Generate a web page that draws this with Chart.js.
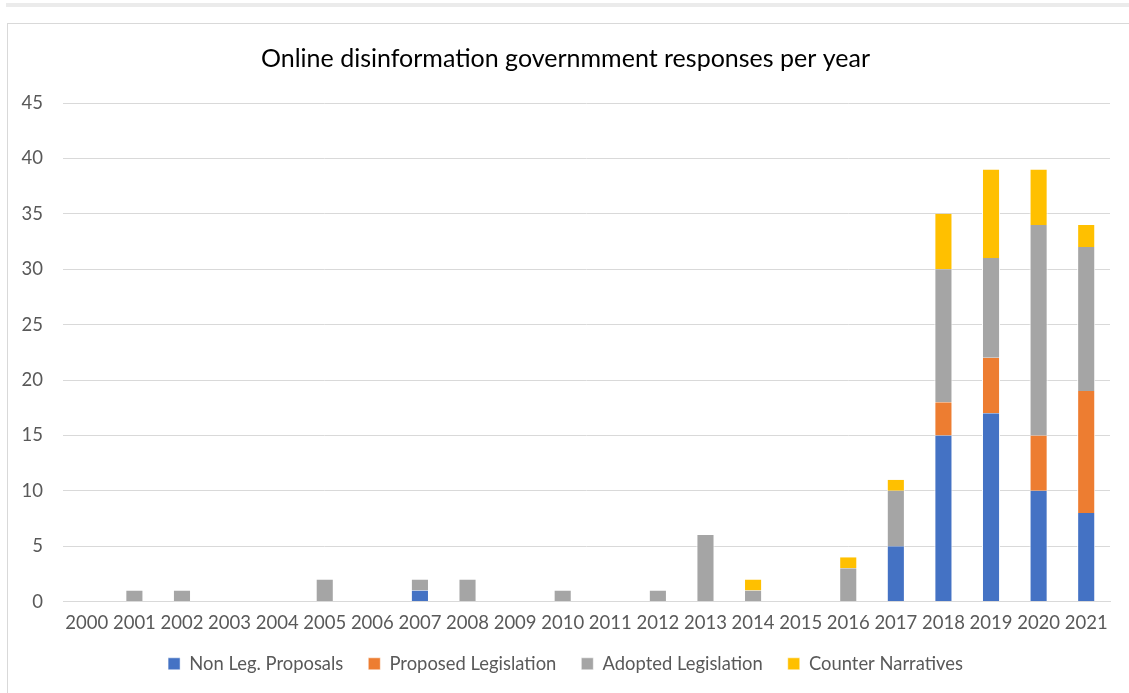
<!DOCTYPE html>
<html>
<head>
<meta charset="utf-8">
<script src="https://cdn.jsdelivr.net/npm/chart.js@4"></script>
<style>
  html, body { margin: 0; padding: 0; background: #fff; width: 1129px; height: 693px; overflow: hidden; }
  #band { position: absolute; left: 6px; top: 3px; width: 1123px; height: 4px; background: #ebebeb; }
  #frame { position: absolute; left: 7px; top: 23px; width: 1140px; height: 700px; border: 1px solid #d9d9d9; }
  #wrap { position: absolute; left: 0; top: 0; width: 1129px; height: 693px; }
</style>
</head>
<body>
<div id="band"></div>
<div id="frame"></div>
<div id="wrap"><canvas id="c"></canvas></div>
<script>
const years = ["2000","2001","2002","2003","2004","2005","2006","2007","2008","2009","2010","2011","2012","2013","2014","2015","2016","2017","2018","2019","2020","2021"];
const nonLegProposals     = [0,0,0,0,0,0,0,1,0,0,0,0,0,0,0,0,0,5,15,17,10,8];
const proposedLegislation = [0,0,0,0,0,0,0,0,0,0,0,0,0,0,0,0,0,0,3,5,5,11];
const adoptedLegislation  = [0,1,1,0,0,2,0,1,2,0,1,0,1,6,1,0,3,5,12,9,19,13];
const counterNarratives   = [0,0,0,0,0,0,0,0,0,0,0,0,0,0,1,0,1,1,5,8,5,2];
const yTicks = [0,5,10,15,20,25,30,35,40,45];

const FONT = "Lato, 'Open Sans', sans-serif";
function ds(label, data, color) {
  return { label, data, backgroundColor: color, borderColor: '#ffffff', borderWidth: {top:0,bottom:0,left:1,right:1}, barPercentage: 0.38, categoryPercentage: 1.0 };
}
new Chart(document.getElementById('c'), {
  type: 'bar',
  data: {
    labels: years,
    datasets: [
      ds('Non Leg. Proposals', nonLegProposals, '#4472c4'),
      ds('Proposed Legislation', proposedLegislation, '#ed7d31'),
      ds('Adopted Legislation', adoptedLegislation, '#a5a5a5'),
      ds('Counter Narratives', counterNarratives, '#ffc000')
    ]
  },
  options: {
    responsive: true,
    maintainAspectRatio: false,
    animation: false,
    layout: { padding: { left: 21, right: 19, top: 44, bottom: 10 } },
    plugins: {
      title: { display: true, text: 'Online disinformation governmment responses per year', color: '#000', font: { family: FONT, size: 25, weight: 'normal' }, padding: { top: 0, bottom: 29 } },
      legend: { position: 'bottom', labels: { color: '#595959', font: { family: FONT, size: 18.4 }, boxWidth: 12, boxHeight: 12, padding: 25 } },
      tooltip: { enabled: false }
    },
    scales: {
      x: {
        stacked: true,
        grid: { display: false, drawTicks: false, tickLength: 0 },
        border: { color: '#d9d9d9' },
        ticks: { color: '#595959', font: { family: FONT, size: 18.5 }, padding: 10, maxRotation: 0, autoSkip: false },
        afterFit: (axis) => { axis.height = 28; }
      },
      y: {
        stacked: true,
        min: 0, max: 45,
        afterBuildTicks: (axis) => { axis.ticks = yTicks.map(v => ({ value: v })); },
        grid: { color: '#d9d9d9', drawTicks: false },
        border: { display: false },
        ticks: { color: '#595959', font: { family: FONT, size: 18.5 }, padding: 20 },
        afterFit: (axis) => { axis.width = 42; }
      }
    }
  }
});
</script>
</body>
</html>
